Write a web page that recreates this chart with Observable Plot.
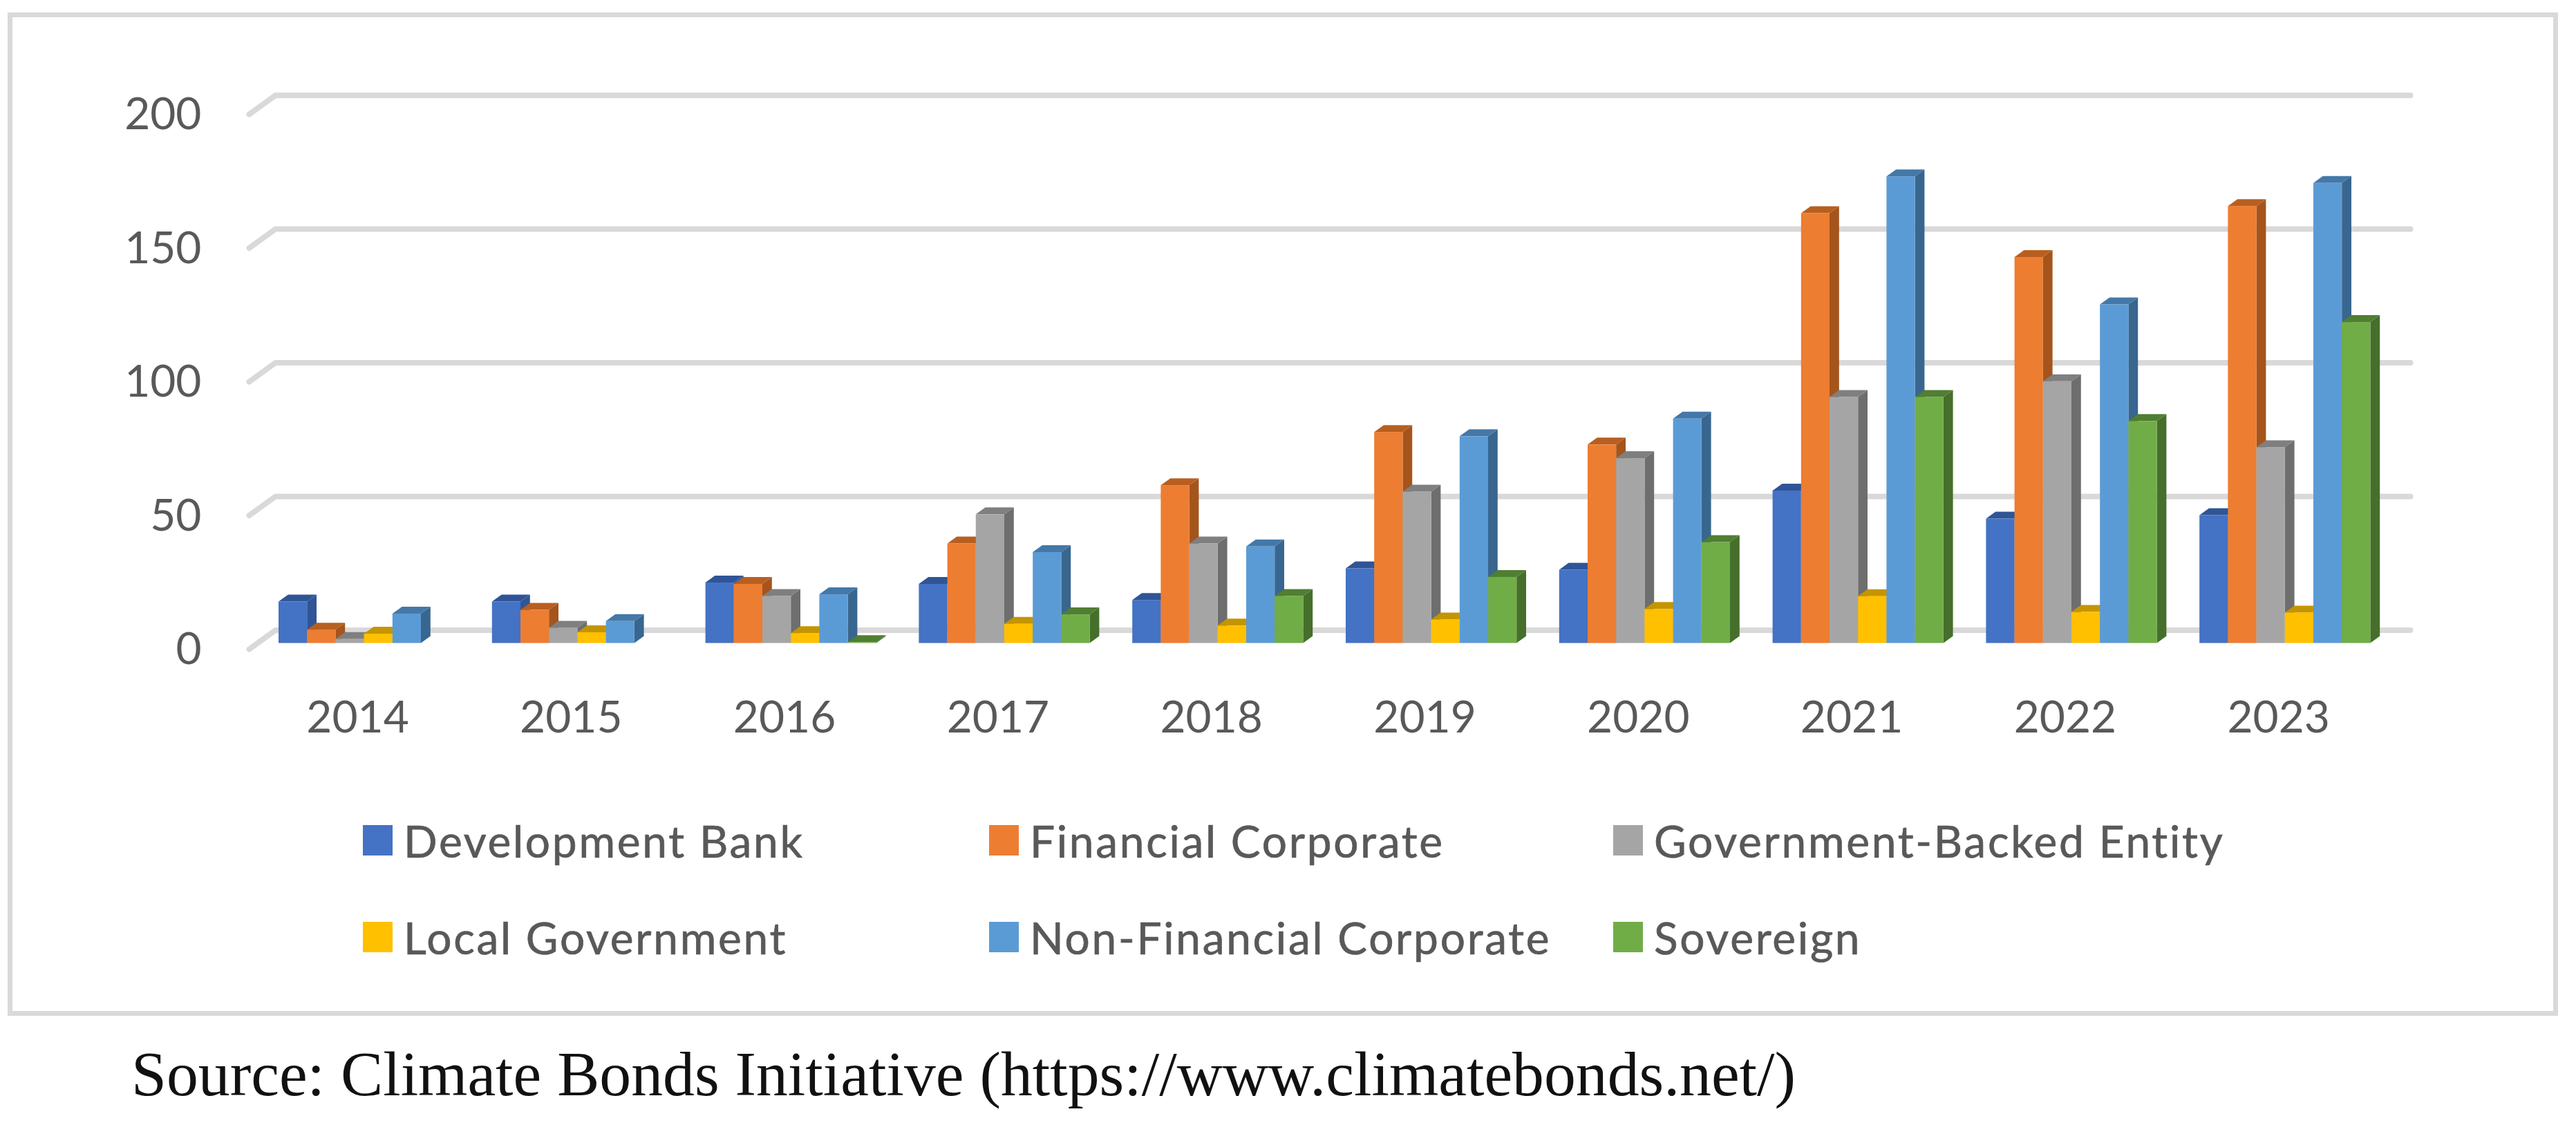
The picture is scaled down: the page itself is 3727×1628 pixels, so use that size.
<!DOCTYPE html>
<html>
<head>
<meta charset="utf-8">
<script src="https://cdn.jsdelivr.net/npm/d3@7"></script>
<script src="https://cdn.jsdelivr.net/npm/@observablehq/plot@0.6"></script>
<style>
  html, body { margin: 0; padding: 0; background: #fff; }
  #page { position: relative; width: 3727px; height: 1628px; overflow: hidden; background: #fff; }
  #frame { position: absolute; left: 11px; top: 18px; width: 3676px; height: 1438px; border: 7px solid #d9d9d9; }
  #chart { position: absolute; left: 0; top: 0; }
  #chart svg { display: block; }
  #chart svg text { -webkit-text-stroke: 0.7px #595959; }
  #legend { position: absolute; left: 525px; top: 1168px; display: grid;
            grid-template-columns: 906px 903px auto; grid-auto-rows: 140px;
            font: 64px Lato, sans-serif; letter-spacing: 2.7px; color: #595959; -webkit-text-stroke: 0.7px #595959; }
  .item { display: flex; align-items: center; height: 96px; white-space: nowrap; }
  .swatch { width: 43px; height: 44px; margin-right: 16px; flex: none; }
  #source { position: absolute; left: 190px; top: 1501px; font: 91.7px "Liberation Serif", serif; color: #111; white-space: nowrap; }
</style>
</head>
<body>
<div id="page">
  <div id="frame"></div>
  <div id="chart"></div>
  <div id="legend"></div>
  <div id="source">Source: Climate Bonds Initiative (https://www.climatebonds.net/)</div>
</div>
<script>
const years = [2014, 2015, 2016, 2017, 2018, 2019, 2020, 2021, 2022, 2023];
const yTicks = [0, 50, 100, 150, 200];

const developmentBank = [15.5, 15.5, 22.6, 22.1, 16.1, 27.9, 27.4, 57, 46.5, 47.8];
const financialCorporate = [5, 12.4, 22.1, 37.2, 59, 78.9, 74.2, 160.7, 144.3, 163.4];
const governmentBacked = [1.5, 5.7, 17.6, 48.1, 37.2, 56.6, 69.1, 92, 97.9, 73.2];
const localGovernment = [3.5, 4, 3.7, 7.2, 6.5, 8.8, 12.7, 17.5, 11.6, 11.4];
const nonFinancialCorporate = [11, 8.2, 18.2, 34, 36.1, 77.3, 83.9, 174.5, 126.6, 172];
const sovereign = [0, 0, 0.3, 10.7, 17.6, 24.7, 37.7, 92, 83, 120];

const seriesNames = ["Development Bank", "Financial Corporate", "Government-Backed Entity",
                     "Local Government", "Non-Financial Corporate", "Sovereign"];
const seriesValues = [developmentBank, financialCorporate, governmentBacked,
                      localGovernment, nonFinancialCorporate, sovereign];
const frontColors = ["#4472c4", "#ed7d31", "#a5a5a5", "#ffc000", "#5b9bd5", "#70ad47"];
const topColors = ["#2f5597", "#b85f20", "#7f7f7f", "#c49500", "#4478a8", "#507e32"];
const sideColors = ["#2f5597", "#a5541c", "#6e6e6e", "#bf9000", "#38668f", "#456f2b"];

// Scale geometry: one year = 308.8 px, one value unit = 3.87 px
const pxPerYear = 308.8, pxPerUnit = 3.87;
const barW = 41.2 / pxPerYear, barStart = -114 / pxPerYear;
const depthX = 13.8 / pxPerYear, depthY = 10 / pxPerUnit;
const floorFront = -8.5 / pxPerUnit, floorBack = 18.9 / pxPerUnit;
const gridLeft = 2014 - 157 / pxPerYear, gridBend = 2014 - 119 / pxPerYear, gridRight = 2014 + 2970 / pxPerYear;

const gridRows = yTicks.flatMap(t => [
  {t, x: gridLeft, y: t + floorFront},
  {t, x: gridBend, y: t + floorBack},
  {t, x: gridRight, y: t + floorBack}
]);

const marks = [
  Plot.line(gridRows, {x: "x", y: "y", z: "t", stroke: "#d9d9d9", strokeWidth: 8, strokeLinecap: "round", strokeLinejoin: "round"})
];

seriesValues.forEach((vals, s) => {
  const bars = years.map((year, i) => {
    const x1 = year + barStart + s * barW;
    return {year, x1, x2: x1 + barW, v: vals[i], base: 0};
  }).filter(d => d.v > 0);
  const side = bars.flatMap(d => [
    {k: d.year, x: d.x2, y1: 0, y2: d.v},
    {k: d.year, x: d.x2 + depthX, y1: depthY, y2: d.v + depthY}
  ]);
  const top = bars.flatMap(d => [
    {k: d.year, x: d.x1, y1: d.v, y2: d.v},
    {k: d.year, x: d.x1 + depthX, y1: d.v, y2: d.v + depthY},
    {k: d.year, x: d.x2, y1: d.v, y2: d.v + depthY},
    {k: d.year, x: d.x2 + depthX, y1: d.v + depthY, y2: d.v + depthY}
  ]);
  marks.push(
    Plot.areaY(side, {x: "x", y1: "y1", y2: "y2", z: "k", fill: sideColors[s], curve: "linear"}),
    Plot.areaY(top, {x: "x", y1: "y1", y2: "y2", z: "k", fill: topColors[s], curve: "linear"}),
    Plot.rect(bars, {x1: "x1", x2: "x2", y1: "base", y2: "v", fill: frontColors[s]})
  );
});

marks.push(
  Plot.axisY({ticks: yTicks, tickSize: 0, tickPadding: 0, dy: 10, color: "#595959", fontSize: 64, label: null, tickFormat: "d"}),
  Plot.axisX({ticks: years, tickSize: 0, tickPadding: 0, color: "#595959", fontSize: 64, label: null, tickFormat: "d"})
);

const chart = Plot.plot({
  width: 3727,
  height: 1100,
  marginLeft: 291,
  marginRight: 0,
  marginTop: 0,
  marginBottom: 86,
  x: {type: "linear", domain: [2014, 2023], range: [517, 517 + 9 * pxPerYear]},
  y: {type: "linear", domain: [0, 200], range: [930.5, 930.5 - 200 * pxPerUnit]},
  style: {fontFamily: "Lato, sans-serif", fontSize: "64px", background: "transparent", overflow: "visible"},
  marks
});
document.getElementById("chart").appendChild(chart);

const legend = document.getElementById("legend");
seriesNames.forEach((name, i) => {
  const item = document.createElement("div");
  item.className = "item";
  const sw = document.createElement("span");
  sw.className = "swatch";
  sw.style.background = frontColors[i];
  const label = document.createElement("span");
  label.textContent = name;
  item.append(sw, label);
  legend.appendChild(item);
});
</script>
</body>
</html>
